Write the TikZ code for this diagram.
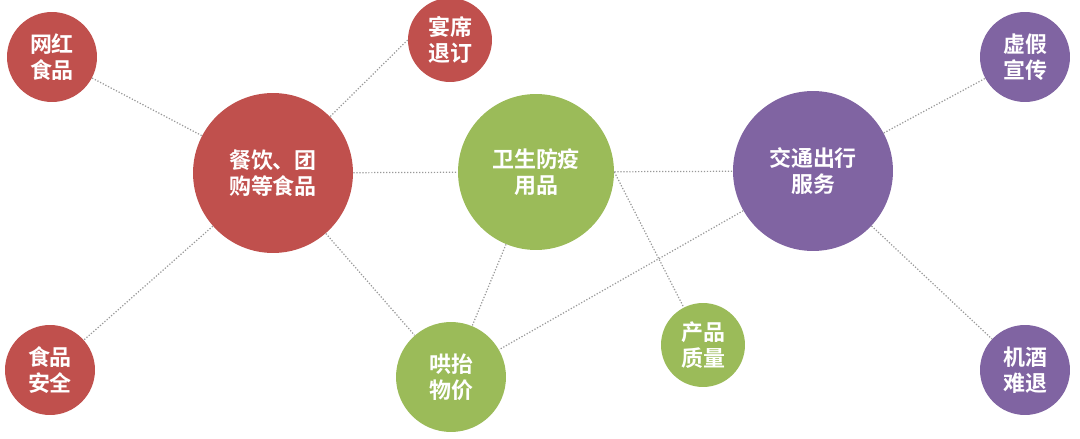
\documentclass[tikz,border=0pt]{standalone}
\usepackage{fontspec}
\newfontfamily\cjk[BoldFont={Noto Sans CJK SC Bold}]{Noto Sans CJK SC}
\definecolor{cred}{HTML}{C0504D}
\definecolor{cgreen}{HTML}{9BBB59}
\definecolor{cpurple}{HTML}{8064A2}
\begin{document}
\begin{tikzpicture}[x=0.02cm,y=-0.02cm,
  bub/.style={circle,inner sep=0pt,text=white,font=\cjk\bfseries\fontsize{12.5}{15}\selectfont,align=center},
  link/.style={gray!80,densely dotted,line width=0.7pt}]
\useasboundingbox (0,0) rectangle (1080,439);
\node[bub,fill=cred,minimum size=90\pgflinewidth*0+1.8cm] (wh) at (52,57) {网红\\食品};
\node[bub,fill=cred,minimum size=1.68cm] (yx) at (450,40) {宴席\\退订};
\node[bub,fill=cred,minimum size=3.2cm] (cy) at (273,173) {餐饮、团\\购等食品};
\node[bub,fill=cgreen,minimum size=3.12cm] (ws) at (536,172) {卫生防疫\\用品};
\node[bub,fill=cpurple,minimum size=3.2cm] (jt) at (813,171) {交通出行\\服务};
\node[bub,fill=cpurple,minimum size=1.8cm] (xj) at (1025,57) {虚假\\宣传};
\node[bub,fill=cred,minimum size=1.8cm] (sp) at (50,370) {食品\\安全};
\node[bub,fill=cgreen,minimum size=2.2cm] (ht) at (451,377) {哄抬\\物价};
\node[bub,fill=cgreen,minimum size=1.68cm] (cp) at (703,345) {产品\\质量};
\node[bub,fill=cpurple,minimum size=1.8cm] (jj) at (1025,370) {机酒\\难退};
\begin{scope}[on background layer/.try]
\end{scope}
\draw[link] (wh) -- (cy);
\draw[link] (yx.west) -- (cy);
\draw[link] (cy) -- (sp);
\draw[link] (cy) -- (ws);
\draw[link] (cy) -- (ht);
\draw[link] (ws) -- (ht);
\draw[link] (ws.east) -- (cp);
\draw[link] (ws) -- (jt);
\draw[link] (jt) -- (ht);
\draw[link] (jt) -- (xj);
\draw[link] (jt) -- (jj);
\end{tikzpicture}
\end{document}
